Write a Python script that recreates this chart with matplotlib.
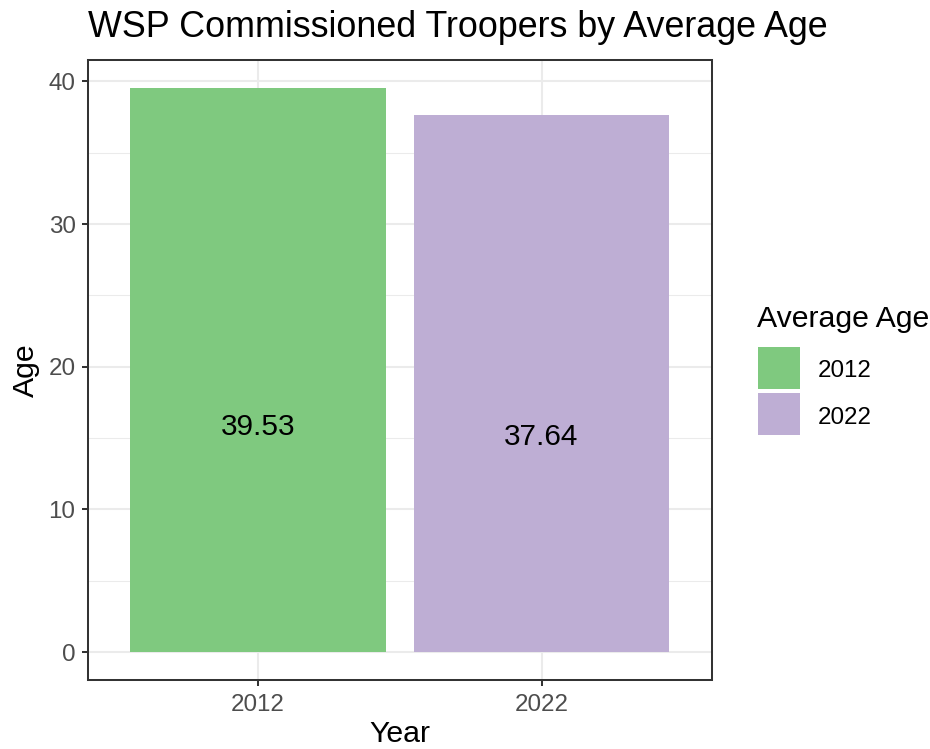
import matplotlib
matplotlib.use("Agg")
import matplotlib.pyplot as plt
from matplotlib.patches import Rectangle

years = ["2012", "2022"]
avg_age = [39.53, 37.64]
bar_colors = ["#7FC97F", "#BEAED4"]
y_ticks = [0, 10, 20, 30, 40]
y_minor = [5, 15, 25, 35]

plt.rcParams["font.family"] = ["Liberation Sans", "DejaVu Sans"]

W, H = 930, 749
fig = plt.figure(figsize=(W / 100, H / 100), dpi=100)
ax = fig.add_axes([87.7 / W, 1 - 680.3 / H, (711.7 - 87.7) / W, (680.3 - 60) / H])

x = list(range(1, len(years) + 1))
ax.bar(x, avg_age, width=0.9, color=bar_colors, zorder=3)

# labels sit at value / 2.5 in the original
for xi, v in zip(x, avg_age):
    ax.text(xi, v / 2.5, f"{v:.2f}", ha="center", va="center",
            fontsize=21.4, color="black", zorder=4)

pad = max(avg_age) * 0.05
ax.set_ylim(-pad, max(avg_age) + pad)
ax.set_xlim(0.4, len(years) + 0.6)

ax.set_xticks(x)
ax.set_xticklabels(years)
ax.set_yticks(y_ticks)
ax.set_yticks(y_minor, minor=True)

ax.grid(True, which="major", color="#EBEBEB", linewidth=1.45, zorder=0)
ax.grid(True, which="minor", axis="y", color="#EBEBEB", linewidth=0.75, zorder=0)
ax.set_axisbelow(True)
ax.tick_params(which="minor", length=0)
ax.tick_params(which="major", length=4.3, width=1.45, color="#333333",
               labelcolor="#4D4D4D", labelsize=17.4)
ax.tick_params(axis="y", pad=4.5)
ax.tick_params(axis="x", pad=5.5)
for s in ax.spines.values():
    s.set_color("#333333")
    s.set_linewidth(1.45)

ax.set_xlabel("Year", fontsize=21.8, labelpad=3)
ax.set_ylabel("Age", fontsize=21.8, labelpad=6)

fig.text(87.7 / W, 1 - 37.3 / H, "WSP Commissioned Troopers by Average Age",
         fontsize=25.8, ha="left", va="baseline")

# legend
fig.text(756.7 / W, 1 - 326.7 / H, "Average Age", fontsize=21.8,
         ha="left", va="baseline")
key = 42
top = 346.7
for i, (lab, c) in enumerate(zip(years, bar_colors)):
    y0 = top + i * (key + 4.3)
    fig.add_artist(Rectangle((758 / W, 1 - (y0 + key) / H), key / W, key / H,
                             transform=fig.transFigure, color=c,
                             linewidth=0))
    fig.text(817.3 / W, 1 - (y0 + key / 2 + 1) / H, lab, fontsize=17.4,
             ha="left", va="center_baseline")

fig.savefig("out.png", dpi=100)
